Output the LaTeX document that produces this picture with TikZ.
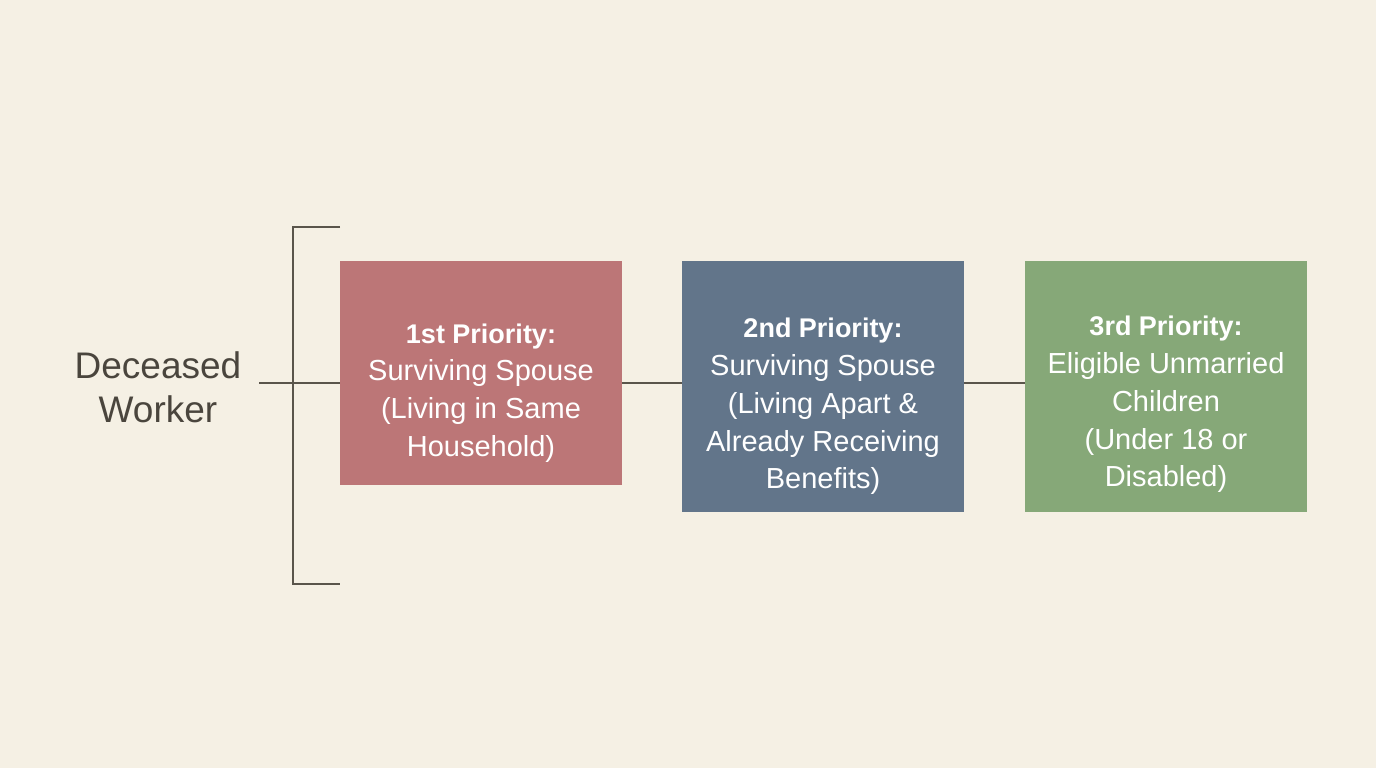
\documentclass[tikz,border=0pt]{standalone}
\usepackage{fontspec}
\setmainfont{Liberation Sans}
\definecolor{bg}{HTML}{F5F0E4}
\definecolor{ln}{HTML}{5A554B}
\definecolor{txt}{HTML}{4A453D}
\definecolor{cA}{HTML}{BC7677}
\definecolor{cB}{HTML}{62758A}
\definecolor{cC}{HTML}{86A878}
\begin{document}
\begin{tikzpicture}[x=1pt,y=-1pt,
  box/.style={draw=none,inner sep=0pt,minimum width=282pt},
  btxt/.style={text=white,align=center,inner sep=0pt,font=\fontsize{29}{37.8}\selectfont},
  conn/.style={draw=ln,line width=1.6pt}]
\fill[bg] (0,0) rectangle (1376,768);
\useasboundingbox (0,0) rectangle (1376,768);
\node[box,fill=cA,minimum height=224pt] (b1) at (481,373) {};
\node[box,fill=cB,minimum height=251pt] (b2) at (823,386.5) {};
\node[box,fill=cC,minimum height=251pt] (b3) at (1166,386.5) {};
\node[btxt] (t1) at (481,393) {{\bfseries\fontsize{27}{37.8}\selectfont 1st Priority:}\\Surviving Spouse\\(Living in Same\\Household)};
\node[btxt] (t2) at (823,406.5) {{\bfseries\fontsize{27}{37.8}\selectfont 2nd Priority:}\\Surviving Spouse\\(Living Apart \&\\Already Receiving\\Benefits)};
\node[btxt] (t3) at (1166,404.5) {{\bfseries\fontsize{27}{37.8}\selectfont 3rd Priority:}\\Eligible Unmarried\\Children\\(Under 18 or\\Disabled)};
\node[text=txt,align=center,inner sep=0pt,font=\fontsize{37}{44}\selectfont] (dw) at (158,387.5) {Deceased\\Worker};
\coordinate (jn) at (293,383);
\coordinate (top) at (293,227);
\coordinate (bot) at (293,584);
\coordinate (topE) at (340,227);
\coordinate (botE) at (340,584);
\coordinate (dwE) at (259,383);
\draw[conn] (topE) -- (top) -- (bot) -- (botE);
\draw[conn] (dwE) -- (b1.west |- jn);
\draw[conn] (b1.east |- jn) -- (b2.west |- jn);
\draw[conn] (b2.east |- jn) -- (b3.west |- jn);
\end{tikzpicture}
\end{document}
